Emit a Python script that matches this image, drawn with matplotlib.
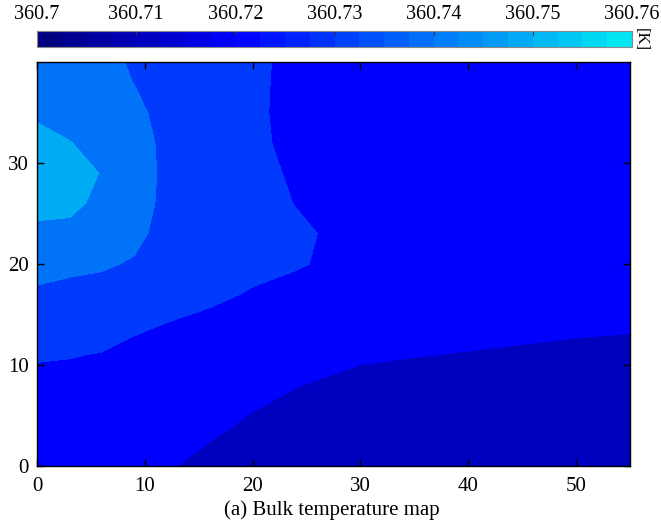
import numpy as np
import matplotlib
matplotlib.use("Agg")
import matplotlib.pyplot as plt
from matplotlib.colors import LinearSegmentedColormap, Normalize
from matplotlib.cm import ScalarMappable

plt.rcParams['font.family'] = ['Liberation Serif', 'DejaVu Serif']

# ---- data ----
x_pos = [0, 3, 6, 9, 12, 16, 20, 24, 27, 30, 35, 40, 45, 50, 55]
y_pos = [0, 4, 8, 11, 14, 17, 20, 23, 26, 29, 32, 35, 38, 40]

temperature = [
    [360.7190, 360.7180, 360.7170, 360.7160, 360.7155, 360.7135, 360.7120, 360.7108, 360.7100, 360.7095, 360.7090, 360.7085, 360.7082, 360.7080, 360.7078],
    [360.7210, 360.7205, 360.7195, 360.7185, 360.7175, 360.7160, 360.7142, 360.7125, 360.7115, 360.7110, 360.7105, 360.7100, 360.7097, 360.7095, 360.7093],
    [360.7235, 360.7230, 360.7220, 360.7210, 360.7200, 360.7185, 360.7165, 360.7152, 360.7142, 360.7135, 360.7128, 360.7122, 360.7117, 360.7113, 360.7110],
    [360.7255, 360.7253, 360.7247, 360.7230, 360.7220, 360.7205, 360.7190, 360.7180, 360.7168, 360.7157, 360.7152, 360.7147, 360.7142, 360.7137, 360.7133],
    [360.7295, 360.7290, 360.7280, 360.7262, 360.7248, 360.7235, 360.7220, 360.7208, 360.7195, 360.7182, 360.7175, 360.7170, 360.7165, 360.7160, 360.7157],
    [360.7335, 360.7327, 360.7320, 360.7305, 360.7280, 360.7262, 360.7245, 360.7232, 360.7220, 360.7205, 360.7195, 360.7190, 360.7185, 360.7182, 360.7180],
    [360.7385, 360.7368, 360.7360, 360.7342, 360.7305, 360.7285, 360.7265, 360.7255, 360.7243, 360.7225, 360.7210, 360.7202, 360.7197, 360.7194, 360.7192],
    [360.7435, 360.7433, 360.7405, 360.7372, 360.7320, 360.7297, 360.7275, 360.7262, 360.7244, 360.7230, 360.7215, 360.7205, 360.7200, 360.7197, 360.7195],
    [360.7470, 360.7465, 360.7435, 360.7390, 360.7328, 360.7303, 360.7278, 360.7248, 360.7232, 360.7222, 360.7210, 360.7200, 360.7196, 360.7193, 360.7192],
    [360.7490, 360.7480, 360.7447, 360.7398, 360.7330, 360.7305, 360.7276, 360.7238, 360.7225, 360.7215, 360.7205, 360.7198, 360.7193, 360.7190, 360.7188],
    [360.7470, 360.7452, 360.7430, 360.7390, 360.7328, 360.7302, 360.7266, 360.7230, 360.7222, 360.7212, 360.7202, 360.7195, 360.7190, 360.7187, 360.7185],
    [360.7440, 360.7425, 360.7405, 360.7372, 360.7320, 360.7297, 360.7262, 360.7230, 360.7220, 360.7210, 360.7200, 360.7193, 360.7188, 360.7185, 360.7183],
    [360.7415, 360.7405, 360.7385, 360.7348, 360.7310, 360.7290, 360.7263, 360.7231, 360.7220, 360.7210, 360.7200, 360.7193, 360.7188, 360.7185, 360.7183],
    [360.7405, 360.7395, 360.7375, 360.7340, 360.7305, 360.7287, 360.7264, 360.7232, 360.7220, 360.7210, 360.7200, 360.7193, 360.7188, 360.7185, 360.7183],
]

contour_levels = [360.705, 360.715, 360.725, 360.735, 360.745, 360.755]
cbar_ticks = [360.70, 360.71, 360.72, 360.73, 360.74, 360.75, 360.76]
cbar_labels = ['360.7', '360.71', '360.72', '360.73', '360.74', '360.75', '360.76']
x_ticks = [0, 10, 20, 30, 40, 50]
y_ticks = [0, 10, 20, 30]
caption = '(a) Bulk temperature map'

# ---- colours ----
cmap = LinearSegmentedColormap.from_list(
    'bulk', [(0.0, (0.0, 0.0, 0.5)), (1/3, (0.0, 0.0, 1.0)), (1.0, (0.0, 0.9, 0.95))])
norm = Normalize(vmin=360.70, vmax=360.76)

W, H = 661, 526
fig = plt.figure(figsize=(W/100, H/100), dpi=100)

ax = fig.add_axes([37/W, 1-466/H, 593/W, 404/H])
X, Y = np.meshgrid(x_pos, y_pos)
Z = np.array(temperature)
ax.contourf(X, Y, Z, levels=contour_levels, cmap=cmap, norm=norm)
ax.set_xlim(0, 55)
ax.set_ylim(0, 40)
ax.set_xticks(x_ticks)
ax.set_yticks(y_ticks)
ax.tick_params(direction='in', top=True, right=True, length=5, width=1.0,
               labelsize=15)
ax.tick_params(axis='x', pad=8)
ax.tick_params(axis='y', pad=6)
for s in ax.spines.values():
    s.set_linewidth(1.0)

# ---- colorbar ----
cax = fig.add_axes([37/W, 1-47/H, 595/W, 16/H])
sm = ScalarMappable(norm=norm, cmap=cmap.resampled(24))
cb = fig.colorbar(sm, cax=cax, orientation='horizontal')
cb.set_ticks(cbar_ticks)
cb.set_ticklabels(cbar_labels)
cax.xaxis.set_ticks_position('top')
cax.xaxis.set_label_position('top')
cax.tick_params(direction='in', length=3, width=0.8, labelsize=14.5, pad=5,
                color='#333333')
cb.outline.set_edgecolor('#888888')
cb.outline.set_linewidth(0.8)

fig.text(641/W, 1-40/H, '[K]', rotation=-90, ha='center', va='center', fontsize=12)
fig.text(332/W, 1-510/H, caption, ha='center', va='center', fontsize=15)

fig.savefig('out.png', dpi=100)
